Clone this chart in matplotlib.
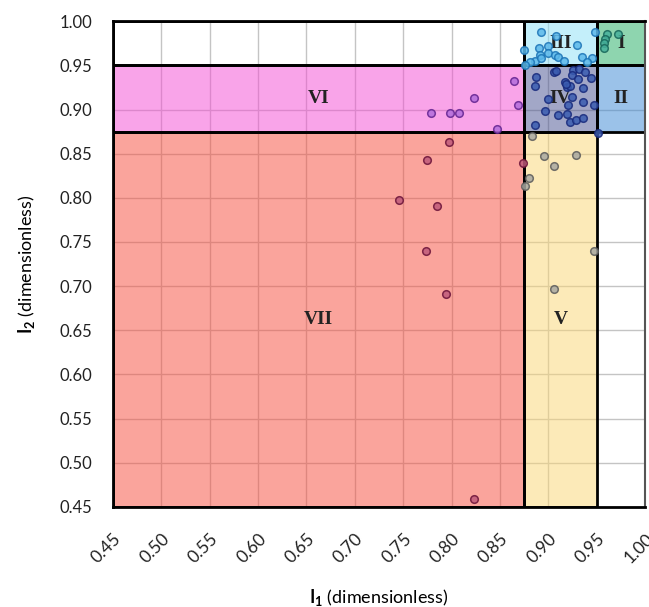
import matplotlib
matplotlib.use("Agg")
import matplotlib.pyplot as plt
import matplotlib.patches as patches

plt.rcParams["font.family"] = ["Lato", "DejaVu Sans"]
plt.rcParams["mathtext.fontset"] = "custom"
plt.rcParams["mathtext.bf"] = "Lato:bold"
plt.rcParams["mathtext.rm"] = "Lato"

# region bounds (I1 min, I1 max, I2 min, I2 max) and labels
region_names = ["I", "II", "III", "IV", "V", "VI", "VII"]
region_x0 = [0.95, 0.95, 0.875, 0.875, 0.875, 0.45, 0.45]
region_x1 = [1.00, 1.00, 0.95, 0.95, 0.95, 0.875, 0.875]
region_y0 = [0.95, 0.875, 0.95, 0.875, 0.45, 0.875, 0.45]
region_y1 = [1.00, 0.95, 1.00, 0.95, 0.875, 0.95, 0.875]

# points per region (I1, I2)
pts_I_x = [0.961, 0.972, 0.959, 0.958, 0.958]
pts_I_y = [0.985, 0.985, 0.980, 0.975, 0.970]

pts_III_x = [0.892, 0.908, 0.948, 0.875, 0.890, 0.900, 0.891, 0.900, 0.907, 0.910,
             0.930, 0.935, 0.886, 0.892, 0.916, 0.945, 0.940, 0.881, 0.876]
pts_III_y = [0.988, 0.983, 0.988, 0.967, 0.970, 0.972, 0.962, 0.964, 0.962, 0.959,
             0.973, 0.960, 0.955, 0.958, 0.955, 0.958, 0.954, 0.954, 0.951]

pts_IV_x = [0.906, 0.908, 0.925, 0.932, 0.938, 0.924, 0.944, 0.887, 0.886, 0.917,
            0.919, 0.922, 0.931, 0.936, 0.918, 0.900, 0.924, 0.920, 0.936, 0.947,
            0.897, 0.910, 0.919, 0.922, 0.929, 0.936, 0.886, 0.951]
pts_IV_y = [0.942, 0.944, 0.945, 0.946, 0.943, 0.939, 0.936, 0.937, 0.927, 0.931,
            0.926, 0.927, 0.935, 0.924, 0.929, 0.912, 0.914, 0.905, 0.909, 0.905,
            0.898, 0.894, 0.895, 0.886, 0.888, 0.890, 0.883, 0.873]

pts_V_x = [0.883, 0.896, 0.906, 0.929, 0.880, 0.876, 0.947, 0.906]
pts_V_y = [0.870, 0.847, 0.836, 0.849, 0.823, 0.813, 0.740, 0.697]

pts_VI_x = [0.8645, 0.823, 0.779, 0.798, 0.808, 0.847, 0.869]
pts_VI_y = [0.932, 0.913, 0.896, 0.896, 0.896, 0.878, 0.905]

pts_VII_x = [0.797, 0.775, 0.746, 0.785, 0.774, 0.794, 0.874, 0.823]
pts_VII_y = [0.863, 0.843, 0.797, 0.791, 0.740, 0.691, 0.840, 0.459]

ticks = [0.45, 0.50, 0.55, 0.60, 0.65, 0.70, 0.75, 0.80, 0.85, 0.90, 0.95, 1.00]

# styles
region_colors = ["#1fad61", "#3987d5", "#8be1f7", "#475191", "#fbd773", "#f54bd5", "#f74b3b"]
point_styles = [
    (pts_I_x, pts_I_y, "#45b09a", "#17665a"),
    (pts_III_x, pts_III_y, "#5cb8ea", "#1c74b6"),
    (pts_IV_x, pts_IV_y, "#3a5cb0", "#182a7c"),
    (pts_V_x, pts_V_y, "#a9a9a2", "#5a5a5a"),
    (pts_VI_x, pts_VI_y, "#b36ddb", "#62228f"),
    (pts_VII_x, pts_VII_y, "#bf5a7a", "#6a1238"),
]

fig = plt.figure(figsize=(6.49, 6.07), dpi=100)
ax = fig.add_axes([0.174, 0.165, 0.820, 0.800])

ax.set_xlim(0.45, 1.00)
ax.set_ylim(0.45, 1.00)
ax.set_xticks(ticks)
ax.set_yticks(ticks)
ax.set_xticklabels([f"{t:.2f}" for t in ticks], rotation=45, ha="right",
                   rotation_mode="anchor", fontsize=12.5, color="#222222")
ax.set_yticklabels([f"{t:.2f}" for t in ticks], fontsize=12, color="#222222")
ax.tick_params(axis="x", length=0, pad=17)
ax.tick_params(axis="y", length=0, pad=15)
ax.grid(True, color="#c4c4c4", linewidth=1.0, zorder=0)
ax.set_axisbelow(True)

for sp in ["left", "bottom", "top"]:
    ax.spines[sp].set_color("black")
    ax.spines[sp].set_linewidth(2)
ax.spines["right"].set_color("#555555")
ax.spines["right"].set_linewidth(1.5)

# empty top-left box
ax.add_patch(patches.Rectangle((0.45, 0.95), 0.425, 0.05, facecolor="none",
                               edgecolor="black", linewidth=2, zorder=2))

for name, x0, x1, y0, y1, c in zip(region_names, region_x0, region_x1,
                                   region_y0, region_y1, region_colors):
    ax.add_patch(patches.Rectangle((x0, y0), x1 - x0, y1 - y0, facecolor=c,
                                   alpha=0.5, edgecolor="none", zorder=1))
    ax.add_patch(patches.Rectangle((x0, y0), x1 - x0, y1 - y0, facecolor="none",
                                   edgecolor="black", linewidth=2, zorder=2))
    ax.text((x0 + x1) / 2, (y0 + y1) / 2, name, ha="center", va="center",
            fontsize=14, fontweight="bold", family="Liberation Serif",
            color="#222222", zorder=3)

for xs, ys, fc, ec in point_styles:
    ax.scatter(xs, ys, s=30, facecolor=fc, edgecolor=ec, linewidth=1.1,
               alpha=0.85, zorder=4, clip_on=False)

ax.set_xlabel(r"$\mathbf{I_1}$ (dimensionless)", fontsize=13, labelpad=15)
ax.set_ylabel(r"$\mathbf{I_2}$ (dimensionless)", fontsize=13, labelpad=16)

fig.savefig("out.png", dpi=100)
